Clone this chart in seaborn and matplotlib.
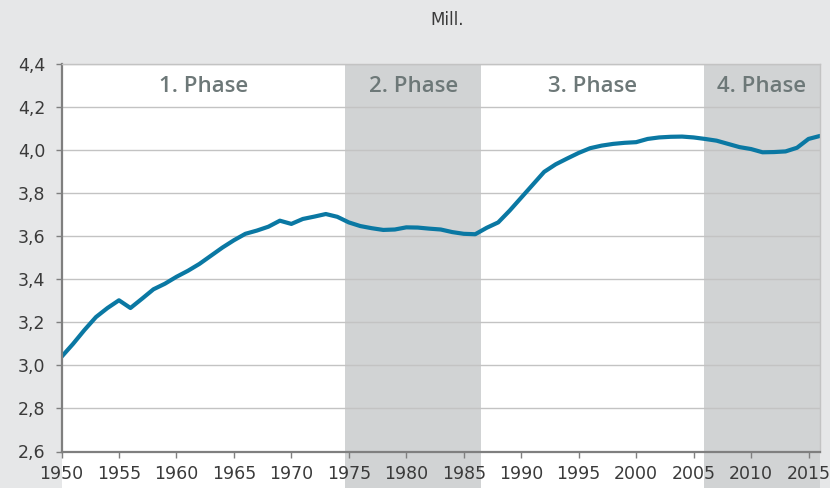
import matplotlib
matplotlib.use("Agg")
import matplotlib.pyplot as plt
from matplotlib.patches import Rectangle
from matplotlib.ticker import FuncFormatter, MultipleLocator
import seaborn as sns
import pandas as pd

# population in millions
years = list(range(1950, 2017))
population = [
    3.04, 3.10, 3.165, 3.225, 3.267, 3.303, 3.267, 3.31, 3.354, 3.38,
    3.412, 3.44, 3.472, 3.51, 3.548, 3.582, 3.612, 3.627, 3.645, 3.673,
    3.658, 3.681, 3.692, 3.704, 3.691, 3.665, 3.648, 3.638, 3.630, 3.632,
    3.642, 3.641, 3.636, 3.632, 3.620, 3.612, 3.610, 3.640, 3.665, 3.72,
    3.78, 3.84, 3.90, 3.935, 3.962, 3.988, 4.01, 4.022, 4.030, 4.035,
    4.038, 4.053, 4.060, 4.063, 4.064, 4.060, 4.053, 4.045, 4.030, 4.015,
    4.006, 3.991, 3.992, 3.995, 4.012, 4.053, 4.067,
]

phase_labels = ["1. Phase", "2. Phase", "3. Phase", "4. Phase"]
phase_bounds = [1950, 1974.7, 1986.5, 2005.9, 2016]
shaded = [False, True, False, True]

df = pd.DataFrame({"year": years, "pop": population})

sns.set_style("white")
plt.rcParams["font.family"] = ["DejaVu Sans Condensed", "Liberation Sans Narrow", "DejaVu Sans"]

bg = "#e6e7e8"
band_col = "#d1d3d4"
line_col = "#0a78a3"
txt_col = "#3a3a3a"

W, H = 830, 488
fig = plt.figure(figsize=(W / 100, H / 100), dpi=100, facecolor=bg)
left, right, top, bottom = 61.5, 820.0, 64.3, 451.5
ax = fig.add_axes([left / W, (H - bottom) / H, (right - left) / W, (bottom - top) / H])
ax.set_facecolor("none")

# white plot area reaching down to the bottom edge
fig.patches.append(Rectangle((left / W, 0), (right - left) / W, (H - top) / H,
                             transform=fig.transFigure, facecolor="white",
                             edgecolor="none", zorder=-5))

ymin_ext = -(H - bottom) / (bottom - top)
for i, lab in enumerate(phase_labels):
    x0, x1 = phase_bounds[i], phase_bounds[i + 1]
    if shaded[i]:
        ax.axvspan(x0, x1, ymin=ymin_ext, ymax=1, color=band_col, lw=0,
                   clip_on=False, zorder=1)
    ax.text((x0 + x1) / 2, 4.297, lab, ha="center", va="center",
            fontsize=16, color="#6d7878", fontweight="semibold",
            family=["Open Sans", "DejaVu Sans"], zorder=3)

ax.set_axisbelow("line")
sns.lineplot(data=df, x="year", y="pop", color=line_col, linewidth=3.0,
             ax=ax, zorder=2)

ax.set_xlim(1950, 2016)
ax.set_ylim(2.6, 4.4)
ax.xaxis.set_major_locator(MultipleLocator(5))
ax.yaxis.set_major_locator(MultipleLocator(0.2))
ax.yaxis.set_major_formatter(FuncFormatter(lambda v, p: f"{v:.1f}".replace(".", ",")))
ax.xaxis.set_major_formatter(FuncFormatter(lambda v, p: f"{int(round(v))}"))
ax.set_xlabel("")
ax.set_ylabel("")

ax.grid(axis="y", color="#c3c3c3", linewidth=1.0)
ax.grid(axis="x", visible=False)

for s in ["left", "bottom"]:
    ax.spines[s].set_color("#7f7f7f")
    ax.spines[s].set_linewidth(1.6)
for s in ["top", "right"]:
    ax.spines[s].set_color("#c3c3c3")
    ax.spines[s].set_linewidth(1.0)

ax.tick_params(axis="both", colors="#7f7f7f", labelcolor=txt_col,
               labelsize=12.5, length=4.5, width=1.0, direction="out")
ax.tick_params(axis="y", pad=7, left=True)
ax.tick_params(axis="x", pad=5, bottom=True)

fig.text(447 / W, 1 - 20 / H, "Mill.", ha="center", va="center",
         fontsize=12, color=txt_col)

fig.savefig("out.png", dpi=100, facecolor=bg)
